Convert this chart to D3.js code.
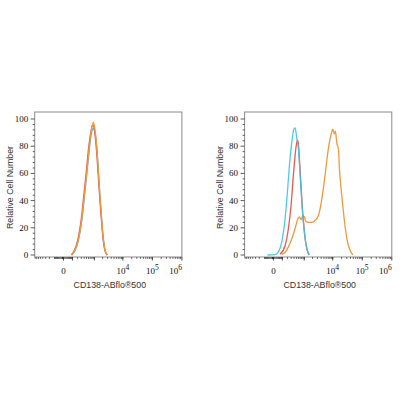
<!DOCTYPE html>
<html lang="en">
<head>
    <meta charset="UTF-8">
    <title>CD138 Histograms</title>
    <script src="https://d3js.org/d3.v7.min.js"></script>
    <style>
        body { margin: 0; background: #fff; }
        .tick-label { font-family: "Liberation Serif", serif; font-size: 9px; fill: #111; }
        .title { font-family: "Liberation Sans", Arial, sans-serif; font-size: 8.8px; fill: #333; }
    </style>
</head>
<body>
    <div id="chart"></div>

    <script>
        // y axis labels and x axis decade labels
        const yTicks = [0, 20, 40, 60, 80, 100];
        const xDecades = [4, 5, 6];
        const xTitle = "CD138-ABflo\u00AE500";
        const yTitle = "Relative Cell Number";

        // left panel: blank / isotype / sample all overlapping
        const leftCyan = [[92,0],[147,3.5],[218,10.8],[314,25.3],[406,42.5],[510,59.5],[630,76],[752,88],[922,93],[1062,90],[1226,79],[1402,62],[1612,42.7],[1857,25.5],[2115,12],[2425,3.7],[2920,0]];
        const leftRed = [[85,0],[138,3.8],[206,11.5],[298,26.5],[386,44],[486,61],[600,78],[718,89],[880,96],[1020,91],[1190,78],[1365,61],[1575,42],[1820,25],[2080,11.5],[2390,3.5],[2880,0]];
        const leftOrange = [[89,0],[145,3.7],[216,11],[312,25.7],[404,43],[508,60],[627,77],[749,89.5],[916,97.6],[1059,92],[1224,79.6],[1400,62.5],[1610,43],[1855,25.7],[2113,12],[2423,3.7],[2920,0]];

        // right panel
        const rightCyan = [[-60,0],[14,0.3],[48,2.3],[92,9.6],[149,27],[197,46],[248,66],[319,83],[400,93],[441,93.5],[518,85.6],[600,78],[698,58.7],[810,39],[932,24],[1078,12],[1244,5],[1507,0]];
        const rightRed = [[68,0.5],[149,7],[221,19.5],[296,36.6],[374,58.7],[471,78],[547,84.4],[600,82],[655,71],[743,54],[855,34],[989,19.5],[1145,8.5],[1352,2],[1544,0]];
        const rightOrange = [[92,0.5],[149,2],[221,6],[319,12],[441,19.5],[547,25.6],[655,28],[763,26],[884,29],[1015,28],[1145,24.8],[1420,24],[1882,24],[2327,25],[3215,29],[3890,36.6],[4565,46],[5480,58.7],[6570,73],[7700,83],[9300,90.5],[10060,92.5],[11410,89],[12350,91],[13770,82],[15600,78],[16880,63.6],[18820,51],[21340,39],[24370,27],[27830,17],[32560,8.5],[38900,3.5],[48000,0]];

        const colors = { cyan: "#3cc3e6", red: "#e85a50", orange: "#f09a3c" };

        const svg = d3.select("#chart").append("svg")
            .attr("width", 400)
            .attr("height", 400);

        const boxW = 147.2, boxH = 145, boxTop = 112;

        const x = d3.scaleSymlog().constant(100).domain([-840, 1e6]).range([0, boxW]);
        const y = d3.scaleLinear().domain([0, 100]).range([143, 7]);

        // minor tick positions for the biexponential axis
        const xMinor = [];
        [1, 10, 100].forEach(s => { for (let i = 1; i < 10; i++) { if (i * s <= 840) xMinor.push(-i * s); } });
        [10, 100, 1000, 10000, 100000].forEach(s => { for (let i = 1; i < 10; i++) xMinor.push(i * s); });
        const xMajor = [0, 100, 1000, 10000, 100000, 1000000];
        const yMinor = d3.range(0, 101, 4);

        function drawPanel(x0, series) {
            const g = svg.append("g").attr("transform", `translate(${x0},${boxTop})`);

            const line = d3.line()
                .x(d => x(d[0]))
                .y(d => y(d[1]))
                .curve(d3.curveMonotoneX);

            series.forEach(s => {
                g.append("path")
                    .attr("d", line(s.data))
                    .attr("fill", "none")
                    .attr("stroke", s.color)
                    .attr("stroke-width", 1.3)
                    .attr("stroke-opacity", s.opacity || 1);
            });

            // frame
            g.append("rect")
                .attr("width", boxW).attr("height", boxH)
                .attr("fill", "none").attr("stroke", "#8a8a8a").attr("stroke-width", 1);

            // y ticks
            g.selectAll(".ym").data(yMinor).enter().append("line")
                .attr("x1", 0).attr("x2", d => d % 20 === 0 ? -4 : -2)
                .attr("y1", d => y(d)).attr("y2", d => y(d))
                .attr("stroke", "#333").attr("stroke-width", 0.8);
            g.selectAll(".yl").data(yTicks).enter().append("text")
                .attr("class", "tick-label")
                .attr("x", -6.5).attr("y", d => y(d) + 3)
                .attr("text-anchor", "end")
                .text(d => d);

            // x ticks
            g.selectAll(".xm").data(xMinor).enter().append("line")
                .attr("x1", d => x(d)).attr("x2", d => x(d))
                .attr("y1", boxH).attr("y2", boxH + 2)
                .attr("stroke", "#333").attr("stroke-width", 0.7);
            g.selectAll(".xM").data(xMajor).enter().append("line")
                .attr("x1", d => x(d)).attr("x2", d => x(d))
                .attr("y1", boxH).attr("y2", boxH + 3.5)
                .attr("stroke", "#333").attr("stroke-width", 0.9);

            g.append("text").attr("class", "tick-label")
                .attr("x", x(0)).attr("y", boxH + 17)
                .attr("text-anchor", "middle").text("0");
            xDecades.forEach((p, i) => {
                const t = g.append("text").attr("class", "tick-label")
                    .attr("x", x(Math.pow(10, p)))
                    .attr("y", boxH + 17)
                    .attr("text-anchor", i === xDecades.length - 1 ? "end" : "middle");
                t.append("tspan").text("10");
                t.append("tspan").attr("dy", -4.5).attr("font-size", "7.5px").text(p);
            });

            // titles
            g.append("text").attr("class", "title")
                .attr("x", boxW / 2 + 1.5).attr("y", boxH + 31)
                .attr("text-anchor", "middle").text(xTitle);
            g.append("text").attr("class", "title")
                .attr("transform", `translate(-21.5,${boxH / 2 + 3}) rotate(-90)`)
                .attr("text-anchor", "middle").text(yTitle);
        }

        drawPanel(34.7, [
            { data: leftCyan, color: colors.cyan },
            { data: leftRed, color: colors.red },
            { data: leftOrange, color: colors.orange }
        ]);
        drawPanel(244.6, [
            { data: rightOrange, color: colors.orange },
            { data: rightRed, color: colors.red },
            { data: rightCyan, color: colors.cyan, opacity: 0.9 }
        ]);
    </script>
</body>
</html>
